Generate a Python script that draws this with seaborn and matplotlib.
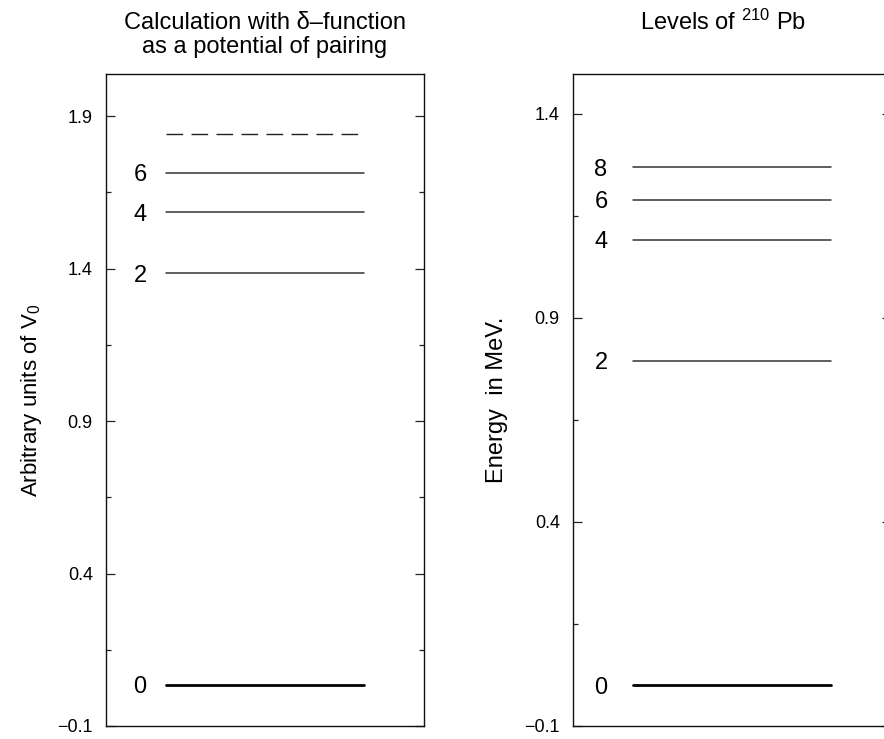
import matplotlib
matplotlib.use("Agg")
import matplotlib.pyplot as plt
from matplotlib.ticker import FixedLocator
import pandas as pd
import seaborn as sns

# Level energies for the pairing model (arbitrary units of V0)
calc_labels = ["0", "2", "4", "6", ""]
calc_energy = [0.035, 1.385, 1.585, 1.715, 1.840]

# Experimental levels of 210Pb (MeV)
pb_labels = ["0", "2", "4", "6", "8"]
pb_energy = [0.0, 0.795, 1.092, 1.190, 1.270]

calc_ticks = [-0.1, 0.4, 0.9, 1.4, 1.9]
pb_ticks = [-0.1, 0.4, 0.9, 1.4]

sns.set_theme(style="ticks")
plt.rcParams["font.family"] = ["Liberation Sans", "DejaVu Sans"]
plt.rcParams["mathtext.fontset"] = "custom"
plt.rcParams["mathtext.rm"] = "Liberation Sans"
plt.rcParams["mathtext.it"] = "Liberation Sans"
plt.rcParams["axes.unicode_minus"] = True
for key in ("text.color", "axes.labelcolor", "xtick.color", "ytick.color"):
    plt.rcParams[key] = "black"

fig = plt.figure(figsize=(8.84, 7.39), dpi=100)
W, H = 884, 739


def px_axes(x0, y_top, w, h):
    return fig.add_axes([x0 / W, 1 - (y_top + h) / H, w / W, h / H])


ax1 = px_axes(106, 74, 318, 652)
ax2 = px_axes(573, 74, 318, 652)


def level_frame(labels, energy):
    rows = []
    for i, (lab, e) in enumerate(zip(labels, energy)):
        for x in (0.19, 0.81):
            rows.append({"level": i, "label": lab, "x": x, "energy": e})
    return pd.DataFrame(rows)


def style_axes(ax, ylim, ticks):
    ax.set_xlim(0, 1)
    ax.set_ylim(*ylim)
    ax.set_xticks([])
    ax.yaxis.set_major_locator(FixedLocator(ticks))
    minors = [t + 0.25 for t in ticks if t + 0.25 < ylim[1]]
    ax.yaxis.set_minor_locator(FixedLocator(minors))
    ax.set_yticklabels([f"{t:.1f}".replace("-", "\u2212") for t in ticks])
    ax.tick_params(axis="y", which="both", direction="in", left=True,
                   right=True, labelright=False, colors="#222222",
                   labelcolor="black", labelsize=13, width=0.9)
    ax.tick_params(axis="y", which="major", length=6.5, pad=9.5)
    ax.tick_params(axis="y", which="minor", length=3.5)
    for s in ax.spines.values():
        s.set_visible(True)
        s.set_color("#111111")
        s.set_linewidth(1.0)
    ax.set_xlabel("")


def draw_levels(ax, labels, energy, label_x, dashed_unlabeled=False):
    df = level_frame(labels, energy)
    for i, lab in enumerate(labels):
        sub = df[df["level"] == i]
        if i == 0:
            kw = dict(color="black", linewidth=2.0)
        elif lab == "" and dashed_unlabeled:
            kw = dict(color="#222222", linewidth=1.0, dashes=(12, 6))
        else:
            kw = dict(color="#333333", linewidth=1.1)
        sns.lineplot(data=sub, x="x", y="energy", estimator=None, ax=ax,
                     legend=False, **kw)
        if lab:
            ax.text(label_x, energy[i], lab, ha="center", va="center_baseline",
                    fontsize=17, color="black")


draw_levels(ax1, calc_labels, calc_energy, 0.107, dashed_unlabeled=True)
draw_levels(ax2, pb_labels, pb_energy, 0.088)

style_axes(ax1, (-0.1, 2.038), calc_ticks)
style_axes(ax2, (-0.1, 1.498), pb_ticks)

ax1.set_ylabel("Arbitrary units of V$_0$", fontsize=16)
ax1.yaxis.set_label_coords(-0.195, 0.5)
ax2.set_ylabel("Energy  in MeV.", fontsize=17)
ax2.yaxis.set_label_coords(-0.205, 0.5)

fig.text(265 / W, 1 - 35 / H, "Calculation with \u03b4\u2013function\nas a potential of pairing",
         ha="center", va="center", fontsize=17, linespacing=1.15)
fig.text(723 / W, 1 - 22 / H, "Levels of $^{210}$ Pb",
         ha="center", va="center", fontsize=17)

fig.savefig("out.png", dpi=100)
